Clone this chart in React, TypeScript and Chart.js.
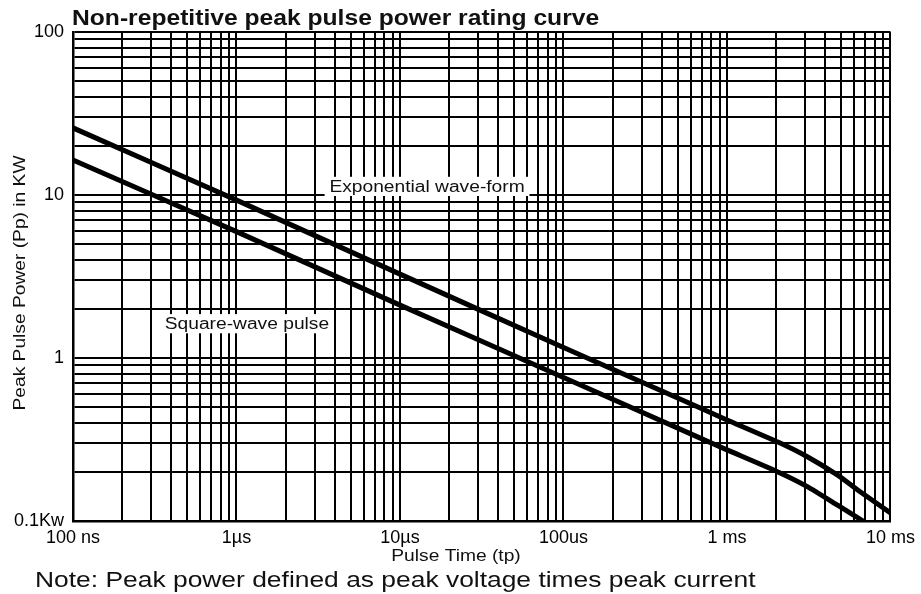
import { useEffect, useRef } from 'react';
import { Chart, registerables } from 'chart.js';

Chart.register(...registerables);

const FONT = "'Liberation Sans', Arial, Helvetica, sans-serif";

// Axis definition
const xMinExp = -7;
const xMaxExp = -2;
const xDecadeLabels = ['100 ns', '1µs', '10µs', '100us', '1 ms', '10 ms'];
const yMinExp = -1;
const yMaxExp = 2;
const yDecadeLabels = ['0.1Kw', '1', '10', '100'];

// Series: pulse time (s) vs peak pulse power (kW)
const expTimes = [1e-7, 1e-6, 1e-5, 1e-4, 6.65e-4, 1e-3, 2.05e-3, 3.12e-3, 4.75e-3, 6.3e-3, 1e-2];
const expPower = [25.8, 9.3, 3.27, 1.16, 0.5, 0.417, 0.305, 0.247, 0.191, 0.155, 0.112];
const sqTimes = [1e-7, 1e-6, 1e-5, 1e-4, 6.65e-4, 1e-3, 2.05e-3, 3.12e-3, 4.75e-3, 6.8e-3];
const sqPower = [16.4, 5.96, 2.11, 0.76, 0.327, 0.273, 0.2, 0.162, 0.125, 0.1];

const titleText = 'Non-repetitive peak pulse power rating curve';
const xTitle = 'Pulse Time (tp)';
const yTitle = 'Peak Pulse Power (Pp) in KW';
const noteText = 'Note: Peak power defined as peak voltage times peak current';
const expLabel = 'Exponential wave-form';
const sqLabel = 'Square-wave pulse';

function logTicks(minExp: number, maxExp: number): number[] {
  const out: number[] = [];
  for (let e = minExp; e < maxExp; e++) {
    for (let m = 1; m <= 9; m++) out.push(Number((m * Math.pow(10, e)).toPrecision(12)));
  }
  out.push(Number(Math.pow(10, maxExp).toPrecision(12)));
  return out;
}

function decadeLabel(value: number, minExp: number, labels: string[]): string {
  const l = Math.log10(value);
  const r = Math.round(l);
  if (Math.abs(l - r) < 1e-6) return labels[r - minExp] ?? '';
  return '';
}

type TextOpts = {
  size: number;
  weight?: string;
  sx?: number;
  align?: CanvasTextAlign;
  baseline?: CanvasTextBaseline;
  rotate?: number;
  box?: boolean;
};

function drawText(ctx: CanvasRenderingContext2D, text: string, x: number, y: number, opts: TextOpts) {
  ctx.save();
  ctx.translate(x, y);
  if (opts.rotate) ctx.rotate(opts.rotate);
  ctx.scale(opts.sx ?? 1, 1);
  ctx.font = `${opts.weight ?? 'normal'} ${opts.size}px ${FONT}`;
  ctx.textAlign = opts.align ?? 'left';
  ctx.textBaseline = opts.baseline ?? 'alphabetic';
  if (opts.box) {
    const w = ctx.measureText(text).width;
    ctx.fillStyle = '#fff';
    ctx.fillRect(-4, -opts.size * 0.95, w + 8, opts.size * 1.2);
  }
  ctx.fillStyle = '#111';
  ctx.fillText(text, 0, 0);
  ctx.restore();
}

const textPlugin = {
  id: 'textPlugin',
  beforeDatasetsDraw(chart: any) {
    const ctx: CanvasRenderingContext2D = chart.ctx;
    const xs = chart.scales.x;
    const ys = chart.scales.y;
    drawText(ctx, expLabel, xs.getPixelForValue(3.7e-6), ys.getPixelForValue(10) - 3, { size: 16, sx: 1.2, box: true });
    drawText(ctx, sqLabel, xs.getPixelForValue(3.64e-7), ys.getPixelForValue(1.5), { size: 16, sx: 1.2, box: true });
  },
  afterDraw(chart: any) {
    const ctx: CanvasRenderingContext2D = chart.ctx;
    drawText(ctx, titleText, 72, 25, { size: 22, weight: 'bold', sx: 1.12 });
    drawText(ctx, yTitle, 21, 283, { size: 16, sx: 1.2, align: 'center', baseline: 'middle', rotate: -Math.PI / 2 });
    drawText(ctx, xTitle, 456, 557, { size: 16, sx: 1.2, align: 'center', baseline: 'middle' });
    drawText(ctx, noteText, 35, 587, { size: 22, sx: 1.2 });
  },
};

export default function App() {
  const ref = useRef<HTMLCanvasElement | null>(null);
  useEffect(() => {
    if (!ref.current) return;
    const chart = new Chart(ref.current, {
      type: 'line',
      data: {
        datasets: [
          {
            label: expLabel,
            data: expTimes.map((t, i) => ({ x: t, y: expPower[i] })),
            borderColor: '#000',
            borderWidth: 5,
            pointRadius: 0,
            tension: 0.15,
            fill: false,
          },
          {
            label: sqLabel,
            data: sqTimes.map((t, i) => ({ x: t, y: sqPower[i] })),
            borderColor: '#000',
            borderWidth: 5,
            pointRadius: 0,
            tension: 0.15,
            fill: false,
          },
        ],
      },
      options: {
        responsive: false,
        animation: false,
        layout: { padding: { top: 32, right: 28, left: 0, bottom: 0 } },
        plugins: { legend: { display: false }, title: { display: false }, tooltip: { enabled: false } },
        scales: {
          x: {
            type: 'logarithmic',
            min: Math.pow(10, xMinExp),
            max: Math.pow(10, xMaxExp),
            afterBuildTicks: (s: any) => {
              s.ticks = logTicks(xMinExp, xMaxExp).map((v) => ({ value: v }));
            },
            afterFit: (s: any) => {
              s.height = 73;
            },
            grid: { color: '#000', lineWidth: 2, drawTicks: false },
            border: { display: true, color: '#000', width: 2.5 },
            ticks: {
              autoSkip: false,
              maxRotation: 0,
              padding: 6,
              color: '#000',
              font: { family: FONT, size: 18 },
              callback: (v: any) => decadeLabel(Number(v), xMinExp, xDecadeLabels),
            },
          },
          y: {
            type: 'logarithmic',
            min: Math.pow(10, yMinExp),
            max: Math.pow(10, yMaxExp),
            afterBuildTicks: (s: any) => {
              s.ticks = logTicks(yMinExp, yMaxExp).map((v) => ({ value: v }));
            },
            afterFit: (s: any) => {
              s.width = 73;
            },
            grid: { color: '#000', lineWidth: 2, drawTicks: false },
            border: { display: true, color: '#000', width: 2.5 },
            ticks: {
              autoSkip: false,
              padding: 9,
              color: '#000',
              font: { family: FONT, size: 18 },
              callback: (v: any) => decadeLabel(Number(v), yMinExp, yDecadeLabels),
            },
          },
        },
      },
      plugins: [textPlugin],
    });
    return () => chart.destroy();
  }, []);
  return (
    <div style={{ position: 'absolute', left: 0, top: 0, width: 921, height: 594, background: '#fff' }}>
      <canvas ref={ref} width={921} height={594} />
    </div>
  );
}
